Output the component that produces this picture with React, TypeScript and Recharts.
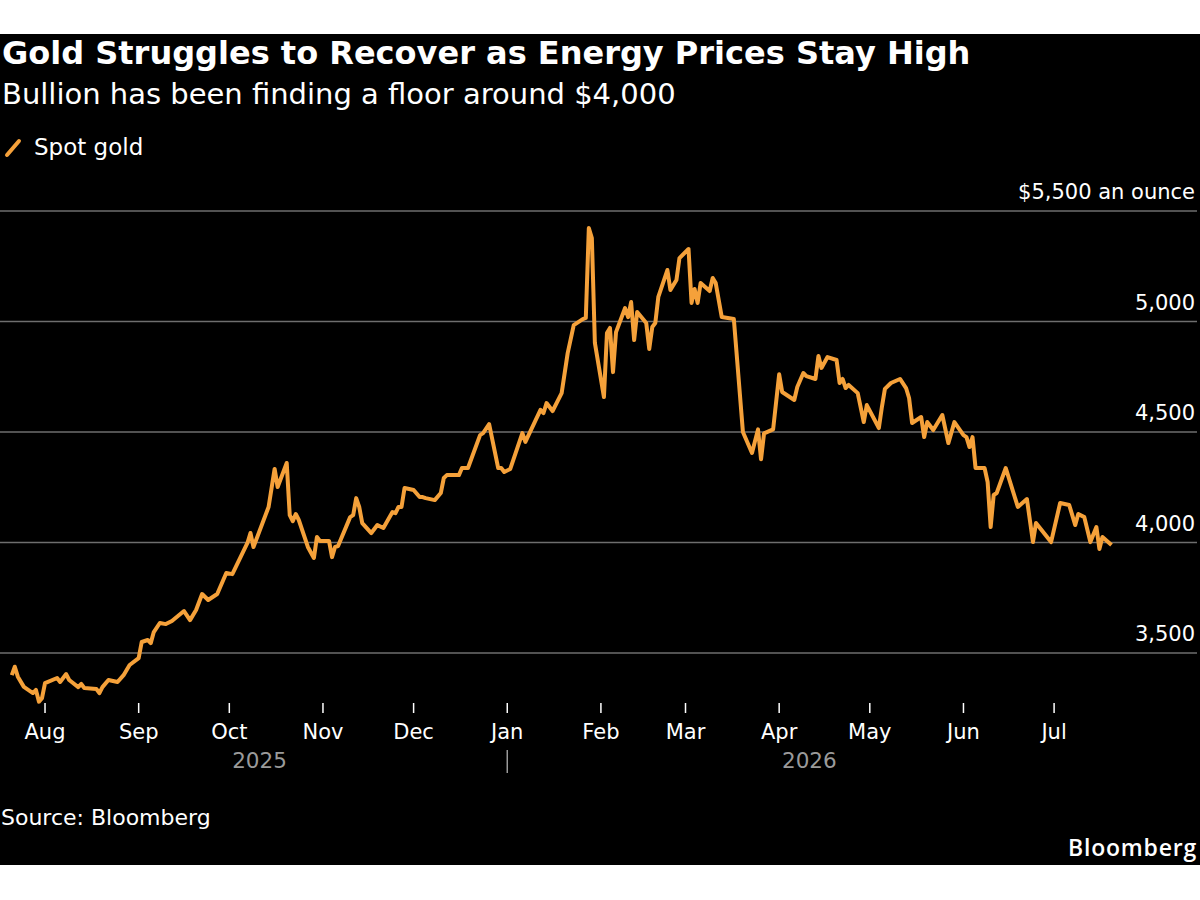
import React from "react";
import { LineChart, Line, XAxis, YAxis, CartesianGrid } from "recharts";

// Spot gold, USD per ounce
const DATES: string[] = [
  "2025-07-21", "2025-07-22", "2025-07-23", "2025-07-25", "2025-07-28", "2025-07-29", "2025-07-30", "2025-07-31",
  "2025-08-01", "2025-08-05", "2025-08-06", "2025-08-08", "2025-08-09", "2025-08-12", "2025-08-13", "2025-08-14",
  "2025-08-18", "2025-08-19", "2025-08-20", "2025-08-22", "2025-08-25", "2025-08-27", "2025-08-29",
  "2025-09-01", "2025-09-02", "2025-09-04", "2025-09-05", "2025-09-06", "2025-09-08", "2025-09-10", "2025-09-12",
  "2025-09-16", "2025-09-18", "2025-09-20", "2025-09-22", "2025-09-24", "2025-09-27", "2025-09-30",
  "2025-10-02", "2025-10-07", "2025-10-08", "2025-10-09", "2025-10-14", "2025-10-16", "2025-10-17", "2025-10-20",
  "2025-10-21", "2025-10-22", "2025-10-23", "2025-10-24", "2025-10-27", "2025-10-29", "2025-10-30", "2025-10-31",
  "2025-11-03", "2025-11-04", "2025-11-05", "2025-11-06", "2025-11-10", "2025-11-11", "2025-11-12", "2025-11-13",
  "2025-11-14", "2025-11-17", "2025-11-19", "2025-11-21", "2025-11-24", "2025-11-25", "2025-11-26", "2025-11-27",
  "2025-11-28", "2025-12-01", "2025-12-03", "2025-12-04", "2025-12-05", "2025-12-08", "2025-12-10", "2025-12-11",
  "2025-12-12", "2025-12-16", "2025-12-17", "2025-12-19", "2025-12-23", "2025-12-24", "2025-12-26", "2025-12-29",
  "2025-12-30", "2025-12-31",
  "2026-01-02", "2026-01-06", "2026-01-07", "2026-01-12", "2026-01-13", "2026-01-14", "2026-01-16", "2026-01-19",
  "2026-01-21", "2026-01-23", "2026-01-26", "2026-01-27", "2026-01-28", "2026-01-29", "2026-01-30",
  "2026-02-02", "2026-02-03", "2026-02-04", "2026-02-05", "2026-02-06", "2026-02-09", "2026-02-10", "2026-02-11",
  "2026-02-12", "2026-02-13", "2026-02-16", "2026-02-17", "2026-02-18", "2026-02-19", "2026-02-20", "2026-02-23",
  "2026-02-24", "2026-02-26", "2026-02-27",
  "2026-03-02", "2026-03-03", "2026-03-04", "2026-03-05", "2026-03-06", "2026-03-09", "2026-03-10", "2026-03-11",
  "2026-03-13", "2026-03-17", "2026-03-20", "2026-03-23", "2026-03-25", "2026-03-26", "2026-03-27", "2026-03-30",
  "2026-04-01", "2026-04-02", "2026-04-06", "2026-04-07", "2026-04-09", "2026-04-10", "2026-04-13", "2026-04-14",
  "2026-04-15", "2026-04-17", "2026-04-20", "2026-04-21", "2026-04-22", "2026-04-23", "2026-04-24", "2026-04-27",
  "2026-04-29", "2026-04-30",
  "2026-05-04", "2026-05-05", "2026-05-06", "2026-05-08", "2026-05-11", "2026-05-13", "2026-05-14", "2026-05-15",
  "2026-05-18", "2026-05-19", "2026-05-20", "2026-05-22", "2026-05-25", "2026-05-27", "2026-05-29",
  "2026-06-01", "2026-06-02", "2026-06-03", "2026-06-04", "2026-06-05", "2026-06-08", "2026-06-09", "2026-06-10",
  "2026-06-11", "2026-06-12", "2026-06-15", "2026-06-19", "2026-06-22", "2026-06-24", "2026-06-25", "2026-06-30",
  "2026-07-03", "2026-07-06", "2026-07-08", "2026-07-09", "2026-07-11", "2026-07-13", "2026-07-15", "2026-07-16",
  "2026-07-17", "2026-07-20",
];

const PRICES: number[] = [
  3400, 3438, 3393, 3347, 3319, 3333, 3280, 3296,
  3364, 3387, 3369, 3405, 3378, 3346, 3360, 3342,
  3337, 3319, 3346, 3378, 3369, 3400, 3446,
  3477, 3550, 3559, 3545, 3595, 3636, 3631, 3645,
  3690, 3649, 3695, 3767, 3740, 3767, 3862,
  3857, 3998, 4043, 3980, 4161, 4333, 4251, 4360,
  4124, 4097, 4129, 4102, 3980, 3930, 4025, 4007,
  4007, 3934, 3980, 3984, 4115, 4124, 4201, 4161,
  4088, 4043, 4079, 4066, 4138, 4133, 4161, 4161,
  4247, 4238, 4206, 4206, 4201, 4192, 4224, 4292,
  4305, 4305, 4337, 4337, 4486, 4495, 4536, 4337,
  4337, 4319,
  4333, 4495, 4455, 4600, 4586, 4631, 4595, 4676,
  4857, 4984, 5011, 5016, 5423, 5378, 4903,
  4658, 4948, 4971, 4771, 4952, 5061, 5020, 5088,
  4916, 5043, 4993, 4876, 4975, 4993, 5111, 5233,
  5143, 5188, 5287,
  5328, 5084, 5147, 5084, 5174, 5138, 5197, 5174,
  5020, 5011, 4500, 4405, 4512, 4377, 4494, 4512,
  4761, 4681, 4645, 4704, 4767, 4753, 4740, 4844,
  4790, 4839, 4826, 4722, 4740, 4699, 4713, 4676,
  4545, 4622,
  4518, 4613, 4695, 4722, 4740, 4699, 4654, 4541,
  4568, 4477, 4545, 4509, 4577, 4450, 4545,
  4486, 4477, 4432, 4477, 4337, 4337, 4274, 4070,
  4215, 4224, 4337, 4161, 4197, 4002, 4088, 4002,
  4179, 4170, 4079, 4129, 4115, 4002, 4070, 3971,
  4025, 3989,
];

const MONTH_TICK_DATES: string[] = [
  "2025-08-01", "2025-09-01", "2025-10-01", "2025-11-01", "2025-12-01", "2026-01-01",
  "2026-02-01", "2026-03-01", "2026-04-01", "2026-05-01", "2026-06-01", "2026-07-01",
];
const MONTH_LABELS: string[] = ["Aug", "Sep", "Oct", "Nov", "Dec", "Jan", "Feb", "Mar", "Apr", "May", "Jun", "Jul"];

const PRICE_TICKS: number[] = [3500, 4000, 4500, 5000, 5500];
const YEAR_LABELS: string[] = ["2025", "2026"];
const YEAR_BREAK = "2026-01-01";

const DAY = 86400000;
const data = DATES.map((d, i) => ({ t: Date.parse(d), price: PRICES[i] }));
const monthTicks = MONTH_TICK_DATES.map((d) => Date.parse(d));
const firstT = data[0].t;
const lastT = data[data.length - 1].t;
const breakT = Date.parse(YEAR_BREAK);
const yearTicks = [(firstT + breakT) / 2, breakT, (breakT + lastT) / 2];

const aug1 = monthTicks[0];
const X_DOMAIN: [number, number] = [aug1 - 14.9 * DAY, aug1 + 381.3 * DAY];
const Y_DOMAIN: [number, number] = [3274, 5500];

const FONT = '"DejaVu Sans", Verdana, sans-serif';
const GOLD = "#f5a13a";

const MonthTick = (props: any) => {
  const { x, y, payload } = props;
  const idx = monthTicks.indexOf(payload.value);
  return (
    <text x={x} y={y + 26} textAnchor="middle" fill="#ffffff" fontSize={21} fontFamily={FONT}>
      {MONTH_LABELS[idx]}
    </text>
  );
};

const YearTick = (props: any) => {
  const { x, y, payload } = props;
  if (payload.value === breakT) {
    return <line x1={x} x2={x} y1={y + 7} y2={y + 30} stroke="#9a9a9a" strokeWidth={1.5} />;
  }
  const label = payload.value < breakT ? YEAR_LABELS[0] : YEAR_LABELS[1];
  return (
    <text x={x} y={y + 25} textAnchor="middle" fill="#9a9a9a" fontSize={21.5} fontFamily={FONT}>
      {label}
    </text>
  );
};

const PriceTick = (props: any) => {
  const { y, payload } = props;
  const v: number = payload.value;
  const txt = v === 5500 ? "$" + v.toLocaleString("en-US") + " an ounce" : v.toLocaleString("en-US");
  return (
    <text x={1195} y={y - 12} textAnchor="end" fill="#ffffff" fontSize={21} fontFamily={FONT}>
      {txt}
    </text>
  );
};

export default function App() {
  return (
    <div style={{ position: "absolute", left: 0, top: 0, width: 1200, height: 900, background: "#ffffff", overflow: "hidden" }}>
      <div style={{ position: "absolute", left: 0, top: 34, width: 1200, height: 831, background: "#000000" }} />
      <svg width={1200} height={900} style={{ position: "absolute", left: 0, top: 0 }}>
        <text x={2} y={64} fill="#ffffff" fontSize={32} fontWeight="bold" fontFamily={FONT}>
          Gold Struggles to Recover as Energy Prices Stay High
        </text>
        <text x={2} y={104} fill="#ffffff" fontSize={29} fontFamily={FONT}>
          Bullion has been finding a floor around $4,000
        </text>
        <line x1={7} y1={155} x2={19} y2={141} stroke={GOLD} strokeWidth={4} strokeLinecap="round" />
        <text x={34} y={155} fill="#ffffff" fontSize={23} fontFamily={FONT}>
          Spot gold
        </text>
        <text x={1} y={825} fill="#ffffff" fontSize={22} fontFamily={FONT}>
          Source: Bloomberg
        </text>
        <text x={1197} y={856} textAnchor="end" fill="#ffffff" fontSize={23} fontWeight={600} letterSpacing={0.8} fontFamily='"Open Sans", Lato, sans-serif'>
          Bloomberg
        </text>
      </svg>
      <div style={{ position: "absolute", left: 0, top: 0 }}>
        <LineChart width={1200} height={900} data={data} margin={{ top: 211, right: 2, bottom: 117, left: 0 }}>
          <CartesianGrid vertical={false} syncWithTicks stroke="#6e6e6e" strokeWidth={1.5} yAxisId="price" xAxisId="month" />
          <XAxis
            xAxisId="month"
            dataKey="t"
            type="number"
            domain={X_DOMAIN}
            ticks={monthTicks}
            tick={<MonthTick />}
            tickSize={10}
            tickMargin={0}
            tickLine={{ stroke: "#ffffff", strokeWidth: 1.5 }}
            axisLine={false}
            height={40}
            interval={0}
          />
          <XAxis
            xAxisId="year"
            dataKey="t"
            type="number"
            domain={X_DOMAIN}
            ticks={yearTicks}
            tick={<YearTick />}
            tickSize={0}
            tickMargin={0}
            tickLine={false}
            axisLine={false}
            height={40}
            interval={0}
          />
          <YAxis
            yAxisId="price"
            orientation="right"
            width={1}
            domain={Y_DOMAIN}
            ticks={PRICE_TICKS}
            tick={<PriceTick />}
            tickSize={0}
            tickMargin={0}
            tickLine={false}
            axisLine={false}
            interval={0}
          />
          <Line
            xAxisId="month"
            yAxisId="price"
            type="linear"
            dataKey="price"
            stroke={GOLD}
            strokeWidth={4}
            strokeLinejoin="round"
            dot={false}
            activeDot={false}
            isAnimationActive={false}
          />
        </LineChart>
      </div>
    </div>
  );
}
